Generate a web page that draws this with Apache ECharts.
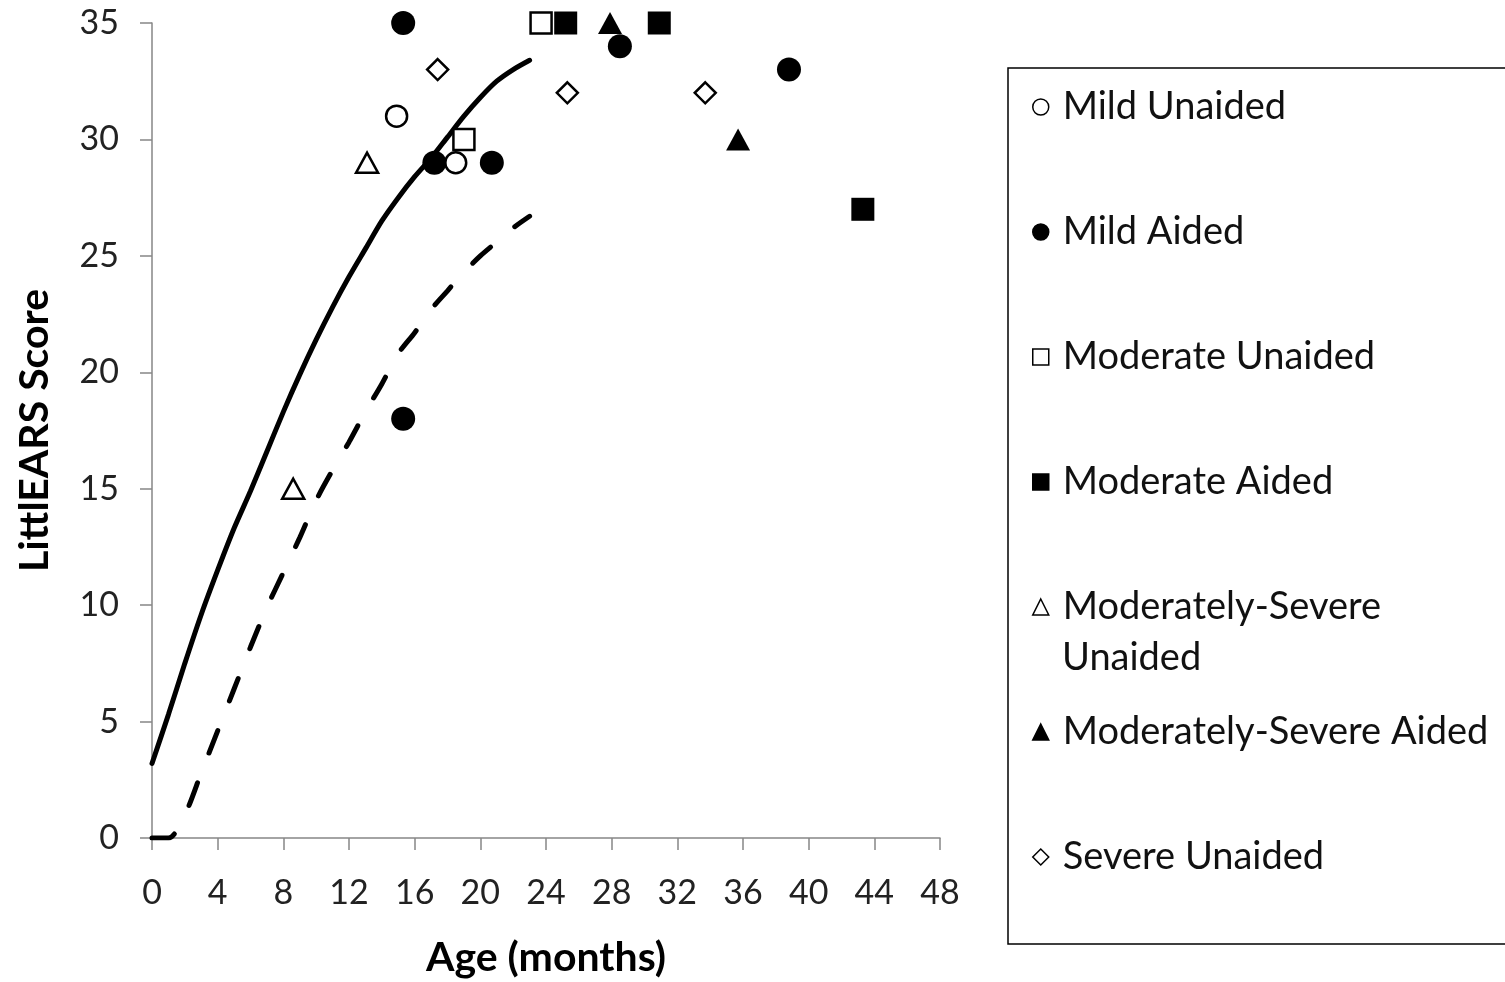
<!DOCTYPE html>
<html>
<head>
<meta charset="utf-8">
<script src="https://cdn.jsdelivr.net/npm/echarts@6/dist/echarts.min.js"></script>
<style>
  html, body { margin: 0; padding: 0; background: #fff; }
  #chart { width: 1505px; height: 982px; }
</style>
</head>
<body>
<div id="chart"></div>
<script>
  // scatter groups: [age in months, LittlEARS score]
  const mildUnaided = [[14.9, 31], [18.5, 29]];
  const mildAided = [[15.3, 35], [17.2, 29], [20.7, 29], [15.3, 18], [28.5, 34], [38.8, 33]];
  const modUnaided = [[23.7, 35], [19.0, 30]];
  const modAided = [[25.2, 35], [30.9, 35], [43.3, 27]];
  const modSevUnaided = [[13.1, 29], [8.6, 15]];
  const modSevAided = [[27.9, 35], [35.7, 30]];
  const sevUnaided = [[17.4, 33], [25.3, 32], [33.7, 32]];

  // norm curves (expected value and minimum)
  const curveAges = [0, 1, 2, 3, 4, 5, 6, 7, 8, 9, 10, 11, 12, 13, 14, 15, 16, 17, 18, 19, 20, 21, 22, 23];
  const expectedCurve = [3.2, 5.3, 7.5, 9.6, 11.5, 13.3, 14.9, 16.6, 18.3, 19.9, 21.4, 22.8, 24.1, 25.3, 26.5, 27.5, 28.4, 29.2, 30.1, 31.0, 31.8, 32.5, 33.0, 33.4];
  const minimumCurve = [0, 0, 1.0, 2.8, 4.6, 6.4, 8.2, 9.9, 11.4, 12.9, 14.5, 15.8, 17.0, 18.3, 19.5, 20.8, 21.7, 22.7, 23.5, 24.3, 25.0, 25.6, 26.2, 26.7];

  const xTicks = [0, 4, 8, 12, 16, 20, 24, 28, 32, 36, 40, 44, 48];
  const yTicks = [0, 5, 10, 15, 20, 25, 30, 35];

  const FONT = 'Lato';
  const openStyle = {color: '#fff', borderColor: '#000', borderWidth: 2.5, opacity: 1};
  const filledStyle = {color: '#000', borderColor: '#000', borderWidth: 0, opacity: 1};

  function zip(xs, ys) {
    return xs.map((x, i) => [x, ys[i]]);
  }

  const myChart = echarts.init(document.getElementById('chart'));

  myChart.setOption({
    backgroundColor: '#ffffff',
    animation: false,
    grid: {left: 152, top: 23, right: 565, bottom: 144, outerBoundsMode: 'none'},
    xAxis: {
      type: 'value',
      min: xTicks[0],
      max: xTicks[xTicks.length - 1],
      interval: 4,
      name: 'Age (months)',
      nameLocation: 'middle',
      nameGap: 99,
      nameTextStyle: {fontFamily: FONT, fontSize: 41, fontWeight: 'bold', color: '#000'},
      axisLine: {lineStyle: {color: '#868686', width: 1.5}},
      axisTick: {length: 12, lineStyle: {color: '#868686', width: 1.5}},
      axisLabel: {fontFamily: FONT, fontSize: 34, color: '#222', margin: 38},
      splitLine: {show: false}
    },
    yAxis: {
      type: 'value',
      min: yTicks[0],
      max: yTicks[yTicks.length - 1],
      interval: 5,
      name: 'LittlEARS Score',
      nameLocation: 'middle',
      nameGap: 97,
      nameTextStyle: {fontFamily: FONT, fontSize: 41, fontWeight: 'bold', color: '#000'},
      axisLine: {show: true, lineStyle: {color: '#868686', width: 1.5}},
      axisTick: {show: true, length: 12, lineStyle: {color: '#868686', width: 1.5}},
      axisLabel: {fontFamily: FONT, fontSize: 34, color: '#222', margin: 33},
      splitLine: {show: false}
    },
    legend: {
      orient: 'vertical',
      left: 1032,
      top: 87,
      padding: 0,
      itemWidth: 16,
      itemHeight: 16,
      itemGap: 85,
      data: ['Mild Unaided', 'Mild Aided', 'Moderate Unaided', 'Moderate Aided',
        'Moderately-Severe Unaided', 'Moderately-Severe Aided', 'Severe Unaided'],
      formatter: function (name) {
        return name === 'Moderately-Severe Unaided' ? 'Moderately-Severe' : name;
      },
      itemStyle: {borderColor: '#000', borderWidth: 1.5},
      textStyle: {fontFamily: FONT, fontSize: 38, lineHeight: 40, color: '#111', padding: [0, 0, 0, 9]}
    },
    graphic: [
      {
        type: 'rect',
        shape: {x: 1008, y: 68, width: 520, height: 876},
        style: {fill: 'none', stroke: '#000', lineWidth: 1.5},
        silent: true
      },
      {
        type: 'text',
        x: 1062,
        y: 658,
        style: {text: 'Unaided', fontFamily: FONT, fontSize: 38, fill: '#111', verticalAlign: 'middle'}
      }
    ],
    series: [
      {
        name: 'Expected', type: 'line', data: zip(curveAges, expectedCurve),
        showSymbol: false, smooth: 0.25,
        lineStyle: {color: '#000', width: 5, cap: 'round'}, z: 1
      },
      {
        name: 'Minimum', type: 'line', data: zip(curveAges, minimumCurve),
        showSymbol: false, smooth: 0.3,
        lineStyle: {color: '#000', width: 5, type: [24, 32], cap: 'round'}, z: 1
      },
      {name: 'Mild Unaided', type: 'scatter', symbol: 'circle', symbolSize: 21, data: mildUnaided, itemStyle: openStyle},
      {name: 'Mild Aided', type: 'scatter', symbol: 'circle', symbolSize: 24, data: mildAided, itemStyle: filledStyle},
      {name: 'Moderate Unaided', type: 'scatter', symbol: 'rect', symbolSize: 21, data: modUnaided, itemStyle: openStyle},
      {name: 'Moderate Aided', type: 'scatter', symbol: 'rect', symbolSize: 23, data: modAided, itemStyle: filledStyle},
      {name: 'Moderately-Severe Unaided', type: 'scatter', symbol: 'triangle', symbolSize: [22, 20], data: modSevUnaided, itemStyle: openStyle},
      {name: 'Moderately-Severe Aided', type: 'scatter', symbol: 'triangle', symbolSize: [24, 22], data: modSevAided, itemStyle: filledStyle},
      {name: 'Severe Unaided', type: 'scatter', symbol: 'diamond', symbolSize: 21, data: sevUnaided, itemStyle: openStyle}
    ]
  });
</script>
</body>
</html>
